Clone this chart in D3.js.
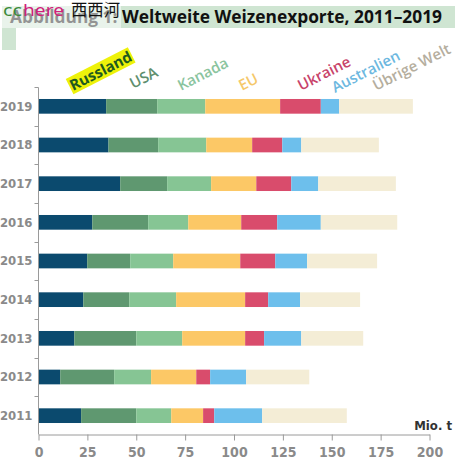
<!DOCTYPE html>
<html><head><meta charset="utf-8">
<script src="https://cdn.jsdelivr.net/npm/d3@7"></script>
<style>
html,body{margin:0;padding:0;background:#fff;}
svg{display:block;}
</style></head>
<body>
<svg id="chart" width="458" height="463"></svg>
<script>
const years = ["2019","2018","2017","2016","2015","2014","2013","2012","2011"];
const seriesNames = ["Russland","USA","Kanada","EU","Ukraine","Australien","Übrige Welt"];
const seriesColors = ["#0b4a6e","#5f9870","#86c594","#fcc866","#d94c6c","#6dbfec","#f4edd6"];
const legendColors = ["#1f5a1f","#5e8f6e","#8ac49e","#f5c86a","#c8436a","#6cb8e0","#b5ae9e"];
// segment values (Mio. t), per year in order of `years`
const russland   = [34.6, 35.8, 41.8, 27.5, 24.9, 22.9, 18.3, 11.1, 21.8];
const usa        = [26.1, 25.4, 24.0, 28.6, 22.0, 23.5, 31.7, 27.6, 28.2];
const kanada     = [24.6, 24.6, 22.5, 20.5, 22.0, 24.0, 23.5, 18.9, 17.9];
const eu         = [38.3, 23.5, 23.1, 27.1, 34.3, 35.3, 32.2, 23.1, 16.3];
const ukraine    = [20.8, 15.4, 17.9, 18.4, 17.9, 11.8,  9.7,  7.1,  5.7];
const australien = [ 9.4,  9.7, 13.8, 22.3, 16.3, 16.3, 19.0, 18.4, 24.5];
const uebrige    = [37.7, 39.7, 39.7, 39.1, 35.8, 30.7, 31.7, 32.3, 43.3];
const xTicks = [0,25,50,75,100,125,150,175,200];
const unitLabel = "Mio. t";
const titleText = "Abbildung 1: Weltweite Weizenexporte, 2011–2019";
const watermarkParts = ["cc","here","西西河"];

const seriesValues = [russland, usa, kanada, eu, ukraine, australien, uebrige];
const rows = years.map((y,i)=>{ const o={year:y}; seriesNames.forEach((s,j)=>o[s]=seriesValues[j][i]); return o; });
const stack = d3.stack().keys(seriesNames)(rows);

const svg = d3.select("#chart");
const x = d3.scaleLinear().domain([0,200]).range([38.5,429.5]);
const y = d3.scaleBand().domain(years).range([87,435]).paddingInner(0.62).paddingOuter(0.31);

// title banner
svg.append("rect").attr("x",2).attr("y",6).attr("width",453).attr("height",22).attr("fill","#cfe5d2");
svg.append("rect").attr("x",2).attr("y",28).attr("width",14).attr("height",22).attr("fill","#cfe5d2");
svg.append("text").attr("x",10).attr("y",23).attr("font-family","Open Sans, sans-serif").attr("font-weight","bold")
  .attr("font-size",17).attr("fill","#111").attr("textLength",432).attr("lengthAdjust","spacingAndGlyphs").text(titleText);
// watermark with translucent backing
svg.append("rect").attr("x",0).attr("y",0).attr("width",121).attr("height",28).attr("fill","#fff").attr("opacity",0.55);
const wmX = [3,23,71], wmC = ["#3a8a3a","#d0207a","#111"], wmW=[19,41,49];
watermarkParts.forEach((p,i)=>{
  svg.append("text").attr("x",wmX[i]).attr("y",16).attr("font-family", i===2 ? "Noto Sans CJK SC, sans-serif" : "Noto Sans, sans-serif")
    .attr("font-size",17).attr("fill",wmC[i]).attr("textLength",wmW[i]).attr("lengthAdjust","spacingAndGlyphs").text(p);
});

// bars
svg.append("g").selectAll("g").data(stack).join("g").attr("fill",(d,i)=>seriesColors[i])
  .selectAll("rect").data(d=>d).join("rect")
  .attr("x",d=>x(d[0])).attr("width",d=>x(d[1])-x(d[0]))
  .attr("y",d=>y(d.data.year)).attr("height",y.bandwidth());

// x axis
const xAxis = svg.append("g").attr("transform","translate(0,434.5)")
  .call(d3.axisBottom(x).tickValues(xTicks).tickSize(6).tickSizeOuter(0).tickPadding(7));
xAxis.select(".domain").attr("stroke","#9a9a9a");
xAxis.selectAll(".tick line").attr("stroke","#9a9a9a");
xAxis.selectAll("text").attr("fill","#8a8a8a").attr("font-size",14).attr("font-weight","bold")
  .attr("font-family","Liberation Sans Narrow, DejaVu Sans Condensed, sans-serif");

// y axis
const yAxis = svg.append("g").attr("transform","translate(38.5,0)")
  .call(d3.axisLeft(y).tickSize(0).tickPadding(6));
yAxis.select(".domain").remove();
yAxis.selectAll("text").attr("fill","#8a8a8a").attr("font-size",13).attr("font-weight","bold")
  .attr("font-family","Liberation Sans Narrow, DejaVu Sans Condensed, sans-serif");
svg.append("line").attr("x1",38.5).attr("x2",38.5).attr("y1",87.5).attr("y2",434.5).attr("stroke","#9a9a9a");
const bounds = d3.range(years.length).map(i=>y.range()[0]+i*y.step());
svg.append("g").selectAll("line").data(bounds).join("line")
  .attr("x1",34.5).attr("x2",38.5).attr("y1",d=>Math.round(d)+0.5).attr("y2",d=>Math.round(d)+0.5).attr("stroke","#9a9a9a");

// unit label
svg.append("text").attr("x",452).attr("y",430).attr("text-anchor","end").attr("font-size",13).attr("font-weight","bold")
  .attr("font-family","Liberation Sans Narrow, DejaVu Sans Condensed, sans-serif").attr("fill","#333").text(unitLabel);

// rotated legend labels
const legendAnchors = [[73,91],[133,89],[181,91],[242,91],[301,91],[335,93],[376,91]];
const lg = svg.append("g");
seriesNames.forEach((name,i)=>{
  const g = lg.append("g").attr("transform",`translate(${legendAnchors[i][0]},${legendAnchors[i][1]}) rotate(-27)`);
  const t = g.append("text").attr("font-family","Open Sans, sans-serif").attr("font-size",15)
    .attr("font-weight", i===0 ? "bold" : 600).attr("fill",legendColors[i]).text(name);
  if(i===0){
    const bb = t.node().getBBox();
    g.insert("rect","text").attr("x",bb.x-1).attr("y",bb.y+2).attr("width",bb.width+2).attr("height",bb.height-3).attr("fill","#eef20a");
  }
});
</script>
</body></html>
